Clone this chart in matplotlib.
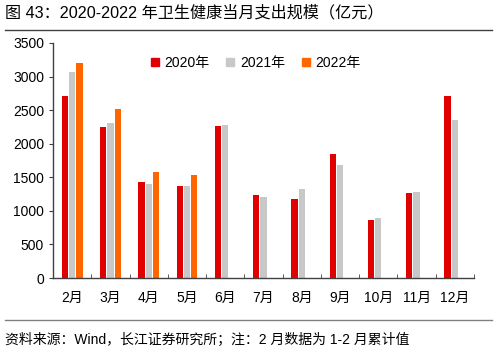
import matplotlib

matplotlib.use("Agg")
import matplotlib.pyplot as plt
import numpy as np
from matplotlib.lines import Line2D

plt.rcParams["font.family"] = ["Liberation Sans", "Noto Sans CJK SC", "DejaVu Sans"]

months = ["2月", "3月", "4月", "5月", "6月", "7月", "8月", "9月", "10月", "11月", "12月"]
y2020 = [2716, 2254, 1435, 1375, 2269, 1231, 1182, 1847, 869, 1261, 2716]
y2021 = [3073, 2304, 1400, 1365, 2284, 1202, 1321, 1688, 889, 1276, 2349]
y2022 = [3197, 2522, 1574, 1529, np.nan, np.nan, np.nan, np.nan, np.nan, np.nan, np.nan]
labels = ["2020年", "2021年", "2022年"]
colors = ["#E00000", "#C8C8C8", "#FF6600"]

title = "图 43：2020-2022 年卫生健康当月支出规模（亿元）"
footer = "资料来源：Wind，长江证券研究所；注：2 月数据为 1-2 月累计值"

fig = plt.figure(figsize=(4.96, 3.61), dpi=100)
ax = fig.add_axes([53 / 496, 1 - 278 / 361, (474 - 53) / 496, (278 - 43) / 361])

x = np.arange(len(months))
w = 0.165
step = 0.19
for i, (vals, lab, c) in enumerate(zip([y2020, y2021, y2022], labels, colors)):
    ax.bar(x + (i - 1) * step, vals, width=w, color=c, label=lab, linewidth=0)

ax.set_xlim(-0.5, len(months) - 0.5)
ax.set_ylim(0, 3500)
ax.set_yticks(range(0, 3501, 500))
ax.set_xticks(x)
ax.set_xticklabels(months, fontsize=10)
ax.tick_params(axis="x", which="major", length=0, pad=9)
ax.set_xticks(np.arange(-0.5, len(months), 1.0), minor=True)
ax.tick_params(axis="x", which="minor", direction="in", length=3, color="#404040")
ax.tick_params(axis="y", direction="out", length=3, color="#404040", labelsize=10)

for s in ["top", "right"]:
    ax.spines[s].set_visible(False)
for s in ["left", "bottom"]:
    ax.spines[s].set_color("#404040")
    ax.spines[s].set_linewidth(1.0)

handles = [Line2D([], [], marker="s", linestyle="none", markersize=6,
                  markerfacecolor=c, markeredgecolor=c) for c in colors]
ax.legend(handles, labels, loc="upper center", bbox_to_anchor=(0.48, 1.0), ncol=3,
          frameon=False, fontsize=10, handlelength=0.8, handletextpad=0.3,
          columnspacing=1.1)

fig.text(5 / 496, 1 - 13 / 361, title, fontsize=11.6, va="center", ha="left")
fig.add_artist(Line2D([5 / 496, 492 / 496], [1 - 30 / 361, 1 - 30 / 361], color="#404040", lw=1))
fig.add_artist(Line2D([5 / 496, 492 / 496], [1 - 320 / 361, 1 - 320 / 361], color="#808080", lw=1))
fig.text(5 / 496, 1 - 340 / 361, footer, fontsize=10, va="center", ha="left")

fig.savefig("out.png", dpi=100)
